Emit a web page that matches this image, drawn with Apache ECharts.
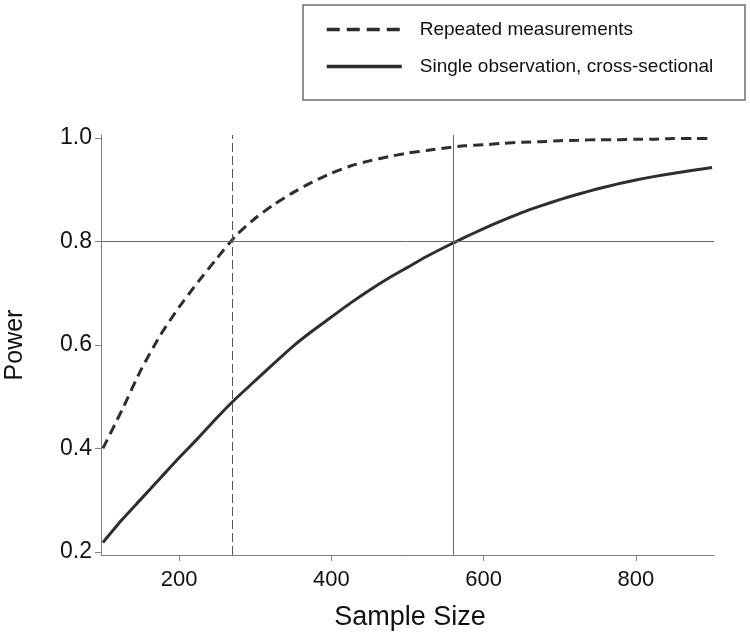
<!DOCTYPE html>
<html>
<head>
<meta charset="utf-8">
<script src="https://cdn.jsdelivr.net/npm/echarts@6/dist/echarts.min.js"></script>
<style>
html,body{margin:0;padding:0;background:#fff;}
#chart{width:750px;height:635px;}
</style>
</head>
<body>
<div id="chart"></div>
<script>
const sampleSizes = [100,125,150,175,200,225,250,275,300,325,350,375,400,425,450,475,500,525,550,575,600,625,650,675,700,725,750,775,800,825,850,875,900];
const repeatedPower = [0.400,0.474,0.552,0.618,0.673,0.722,0.768,0.812,0.845,0.872,0.895,0.915,0.932,0.946,0.956,0.964,0.971,0.976,0.981,0.985,0.987,0.990,0.992,0.993,0.995,0.996,0.997,0.997,0.998,0.998,0.999,0.999,0.999];
const singlePower = [0.218,0.262,0.302,0.342,0.382,0.420,0.460,0.497,0.531,0.565,0.598,0.627,0.654,0.681,0.706,0.729,0.750,0.771,0.790,0.808,0.825,0.841,0.856,0.869,0.881,0.892,0.902,0.911,0.919,0.926,0.932,0.938,0.943];
const xTicks = [200,400,600,800];
const yTicks = [0.2,0.4,0.6,0.8,1.0];
const seriesNames = ['Repeated measurements','Single observation, cross-sectional'];
const refRepeatedX = 270;
const refSingleX = 560;
const refPowerY = 0.8;

const FONT = 'Liberation Sans, Arial, sans-serif';
const axisGray = '#808080';
const lineDark = '#2e2e2e';

const chart = echarts.init(document.getElementById('chart'), null, {renderer:'canvas'});
chart.setOption({
  animation:false,
  backgroundColor:'#fff',
  grid:{left:101,right:36,top:135,bottom:80,containLabel:false,outerBoundsMode:'none'},
  graphic:[{
    type:'rect',
    shape:{x:303,y:5,width:442,height:95},
    style:{fill:'none',stroke:'#6e6e6e',lineWidth:1.5},
    z:-1
  }],
  legend:{
    orient:'vertical',
    left:325,
    top:20,
    itemWidth:75,
    itemHeight:20,
    itemGap:18,
    padding:0,
    itemStyle:{opacity:0},
    lineStyle:{width:3},
    textStyle:{fontFamily:FONT,fontSize:19,color:'#111',padding:[0,0,0,13]},
    data:[
      {name:seriesNames[0],lineStyle:{width:3.5,type:[13,7]}},
      {name:seriesNames[1],lineStyle:{width:3.5}}
    ]
  },
  xAxis:{
    type:'value',
    min:97.5,max:902.5,
    name:'Sample Size',
    nameLocation:'middle',
    nameGap:49,
    nameTextStyle:{fontFamily:FONT,fontSize:27,color:'#111',padding:[0,0,0,5]},
    axisLine:{show:true,onZero:false,lineStyle:{color:axisGray,width:1}},
    axisTick:{show:true,length:6,customValues:xTicks,lineStyle:{color:axisGray}},
    axisLabel:{customValues:xTicks,fontFamily:FONT,fontSize:22,color:'#111',margin:14},
    splitLine:{show:false}
  },
  yAxis:{
    type:'value',
    min:0.194,max:1.006,
    name:'Power',
    nameLocation:'middle',
    nameRotate:90,
    nameGap:73,
    nameTextStyle:{fontFamily:FONT,fontSize:25,color:'#111'},
    axisLine:{show:true,onZero:false,lineStyle:{color:axisGray,width:1}},
    axisTick:{show:true,length:6,customValues:yTicks,lineStyle:{color:axisGray}},
    axisLabel:{customValues:yTicks,fontFamily:FONT,fontSize:23,color:'#111',margin:9,
      formatter:function(v){return v.toFixed(1);}},
    splitLine:{show:false}
  },
  series:[
    {
      name:seriesNames[0],
      type:'line',
      data:sampleSizes.map((x,i)=>[x,repeatedPower[i]]),
      symbol:'none',
      smooth:0.2,
      lineStyle:{color:lineDark,width:3,type:[10,6]},
      itemStyle:{color:lineDark},
      z:3,
      markLine:{
        silent:true,symbol:'none',
        label:{show:false},
        data:[{xAxis:refRepeatedX}],
        lineStyle:{color:'#555',width:1,type:[9,4]}
      }
    },
    {
      name:seriesNames[1],
      type:'line',
      data:sampleSizes.map((x,i)=>[x,singlePower[i]]),
      symbol:'none',
      smooth:0.2,
      lineStyle:{color:lineDark,width:3,type:'solid'},
      itemStyle:{color:lineDark},
      z:3,
      markLine:{
        silent:true,symbol:'none',
        label:{show:false},
        data:[{xAxis:refSingleX},{yAxis:refPowerY}],
        lineStyle:{color:'#6a6a6a',width:1,type:'solid'}
      }
    }
  ]
});
</script>
</body>
</html>
